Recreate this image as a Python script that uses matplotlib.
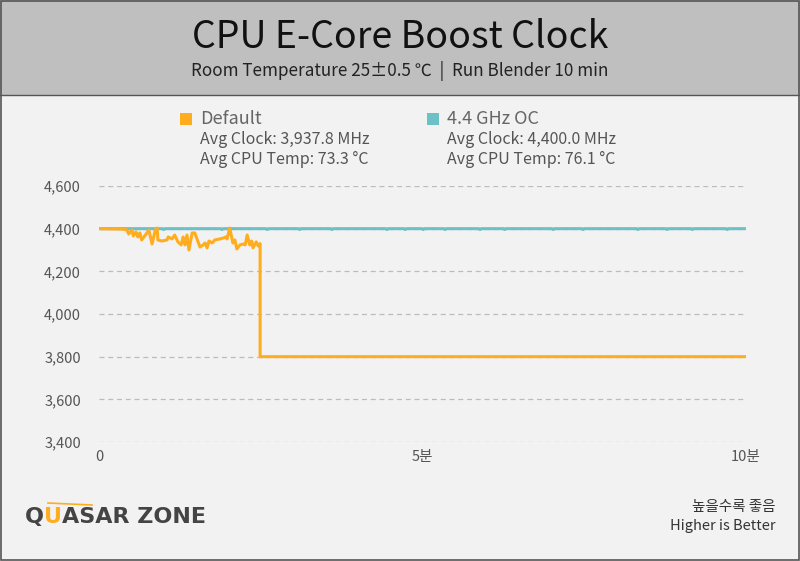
import matplotlib
matplotlib.use("Agg")
import matplotlib.pyplot as plt
from matplotlib.patches import Rectangle
from matplotlib.lines import Line2D

plt.rcParams['font.family'] = ['Noto Sans CJK KR', 'DejaVu Sans']

# minutes / MHz
default_t = [0.00, 0.37, 0.43, 0.46, 0.51, 0.53, 0.57, 0.60, 0.63, 0.66, 0.74, 0.77,
             0.82, 0.87, 0.90, 0.91, 0.97, 1.05, 1.07, 1.13, 1.17, 1.22, 1.27, 1.30,
             1.33, 1.36, 1.39, 1.44, 1.48, 1.51, 1.56, 1.61, 1.64, 1.67, 1.70, 1.75,
             1.79, 1.87, 1.92, 1.96, 1.98, 2.02, 2.07, 2.10, 2.13, 2.18, 2.23, 2.26,
             2.29, 2.33, 2.36, 2.38, 2.43, 2.46, 2.49, 2.49, 10.0]
default_mhz = [4400, 4398, 4394, 4375, 4394, 4366, 4385, 4361, 4380, 4347, 4380, 4394,
               4328, 4394, 4403, 4347, 4342, 4347, 4361, 4352, 4370, 4338, 4324, 4361,
               4324, 4370, 4300, 4380, 4380, 4356, 4314, 4324, 4333, 4310, 4342, 4333,
               4347, 4352, 4356, 4361, 4352, 4403, 4333, 4347, 4305, 4324, 4328, 4324,
               4370, 4324, 4342, 4310, 4338, 4319, 4330, 3800, 3800]

oc_t = [0.00, 0.98, 1.00, 1.02, 1.88, 1.90, 1.92, 2.58, 2.60, 2.62, 3.08, 3.10, 3.12,
        3.58, 3.60, 3.62, 4.43, 4.45, 4.47, 4.71, 4.73, 4.75, 4.99, 5.01, 5.03,
        5.33, 5.35, 5.37, 5.87, 5.89, 5.91, 6.25, 6.27, 6.29, 7.00, 7.02, 7.04,
        7.46, 7.48, 7.50, 8.31, 8.33, 8.35, 8.76, 8.78, 8.80, 9.15, 9.17, 9.19,
        9.69, 9.71, 9.73, 10.0]
oc_mhz = [4400, 4400, 4396, 4400, 4400, 4396, 4400, 4400, 4396, 4400, 4400, 4396, 4400,
          4400, 4396, 4400, 4400, 4396, 4400, 4400, 4396, 4400, 4400, 4396, 4400,
          4400, 4396, 4400, 4400, 4396, 4400, 4400, 4396, 4400, 4400, 4396, 4400,
          4400, 4396, 4400, 4400, 4396, 4400, 4400, 4396, 4400, 4400, 4396, 4400,
          4400, 4396, 4400, 4400]

y_ticks = [3400, 3600, 3800, 4000, 4200, 4400, 4600]
x_ticks = [0, 5, 10]
x_labels = ['0', '5분', '10분']

series_names = ['Default', '4.4 GHz OC']
avg_clock = ['3,937.8 MHz', '4,400.0 MHz']
avg_temp = ['73.3 °C', '76.1 °C']

orange = '#ffad1f'
teal = '#6cc1c6'
txt = '#555555'

W, H = 800, 561
fig = plt.figure(figsize=(W / 100, H / 100), dpi=100)
fig.patch.set_facecolor('#f2f2f2')


def fx(px):
    return px / W


def fy(py):
    return 1 - py / H


# header band and frame
fig.patches.append(Rectangle((0, fy(95)), 1, 1 - fy(95), transform=fig.transFigure,
                             facecolor='#bfbfbf', edgecolor='none', zorder=0))
fig.lines.append(Line2D([0, 1], [fy(95), fy(95)], transform=fig.transFigure,
                        color='#555555', lw=1))
fig.patches.append(Rectangle((0.0008, 0.0012), 0.9984, 0.9976, transform=fig.transFigure,
                             facecolor='none', edgecolor='#555555', lw=1.2, zorder=10))

fig.text(0.5, fy(37), 'CPU E-Core Boost Clock', ha='center', va='center',
         fontsize=27, color='#111111')
fig.text(0.5, fy(71), 'Room Temperature 25±0.5 ℃  |  Run Blender 10 min', ha='center',
         va='center', fontsize=12.3, color='#222222')

ax = fig.add_axes([fx(99), fy(442), fx(746) - fx(99), fy(186) - fy(442)])
ax.set_facecolor('#f2f2f2')
ax.plot(oc_t, oc_mhz, color=teal, lw=2.2, zorder=3)
ax.plot(default_t, default_mhz, color=orange, lw=2.2, zorder=4)
ax.set_xlim(0, 10)
ax.set_ylim(3400, 4600)
ax.set_yticks(y_ticks)
ax.set_yticklabels([f'{v:,}' for v in y_ticks])
ax.set_xticks(x_ticks)
ax.set_xticklabels(x_labels)
ax.yaxis.grid(True, linestyle=(0, (4, 3)), color='#bbbbbb', lw=0.9)
ax.set_axisbelow(True)
for s in ax.spines.values():
    s.set_visible(False)
ax.tick_params(length=0, labelsize=10.5, colors=txt)
ax.tick_params(axis='y', pad=13)
ax.tick_params(axis='x', pad=6)
for lab in ax.get_yticklabels():
    lab.set_ha('right')

# legend block
for i, (name, col) in enumerate(zip(series_names, [orange, teal])):
    x0 = 180 if i == 0 else 427
    fig.patches.append(Rectangle((fx(x0), fy(125)), fx(12), fy(113) - fy(125),
                                 transform=fig.transFigure, facecolor=col, edgecolor='none'))
    fig.text(fx(x0 + 20), fy(119), name, ha='left', va='center', fontsize=13, color='#666666')
    fig.text(fx(x0 + 20), fy(140), 'Avg Clock: ' + avg_clock[i], ha='left', va='center',
             fontsize=11.5, color=txt)
    fig.text(fx(x0 + 20), fy(159), 'Avg CPU Temp: ' + avg_temp[i], ha='left', va='center',
             fontsize=11.5, color=txt)

# footer
fig.text(fx(776), fy(507), '높을수록 좋음', ha='right', va='center', fontsize=10.5, color='#333333')
fig.text(fx(776), fy(526), 'Higher is Better', ha='right', va='center', fontsize=10.5,
         color='#333333')

logo_parts = [('Q', '#444444'), ('U', orange), ('ASAR ZONE', '#444444')]
fig.canvas.draw()
r = fig.canvas.get_renderer()
xpos = fx(25)
for part, col in logo_parts:
    t = fig.text(xpos, fy(517), part, ha='left', va='center', fontsize=16, color=col,
                 fontweight='bold', family='DejaVu Sans')
    bb = t.get_window_extent(renderer=r)
    xpos += bb.width / W
fig.lines.append(Line2D([fx(48), fx(92)], [fy(503), fy(505)], transform=fig.transFigure,
                        color=orange, lw=1.2))

fig.savefig('out.png', dpi=100, facecolor=fig.get_facecolor())
